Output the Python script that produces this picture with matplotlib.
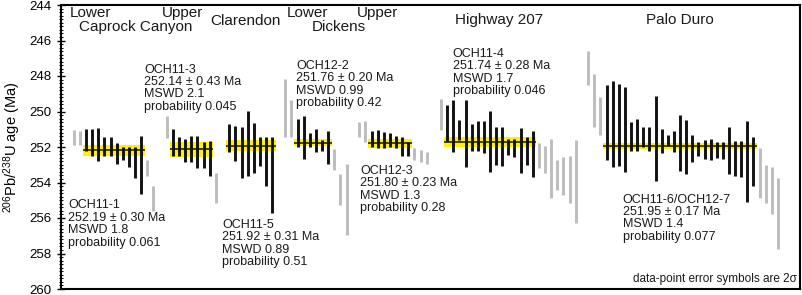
import matplotlib
matplotlib.use("Agg")
import matplotlib.pyplot as plt
from matplotlib.ticker import MultipleLocator

plt.rcParams['font.family'] = ['Liberation Sans', 'DejaVu Sans']
plt.rcParams['mathtext.fontset'] = 'custom'
plt.rcParams['mathtext.rm'] = 'Liberation Sans'
plt.rcParams['mathtext.it'] = 'Liberation Sans:italic'
plt.rcParams['mathtext.default'] = 'regular'

# ---------------- data (ages in Ma; 2-sigma error bar ends) ----------------
# used: 1 = included in weighted mean (black), 0 = excluded (grey)
och11_1_lo = [251.04, 251.11, 250.98, 250.98, 250.94, 251.45, 251.45, 251.79, 251.98, 251.98, 251.98, 251.36, 252.74, 254.19]
och11_1_hi = [251.87, 251.87, 252.21, 252.49, 252.81, 252.49, 252.49, 252.93, 252.74, 253.12, 253.76, 254.63, 253.62, 255.61]
och11_1_used = [0, 0, 1, 1, 1, 1, 1, 1, 1, 1, 1, 1, 0, 0]

och11_3_lo = [250.28, 250.98, 251.45, 251.55, 251.36, 251.36, 251.74, 251.64, 253.49]
och11_3_hi = [251.49, 252.49, 252.49, 252.87, 252.87, 253.21, 253.21, 253.62, 255.14]
och11_3_used = [0, 1, 1, 1, 1, 1, 1, 1, 0]

och11_5_lo = [250.70, 250.79, 250.89, 249.98, 250.66, 251.45, 251.45, 251.45]
och11_5_hi = [252.30, 252.78, 253.76, 253.62, 253.44, 253.06, 254.19, 255.70]
och11_5_used = [1, 1, 1, 1, 1, 1, 1, 1]

och12_2_lo = [248.15, 249.38, 250.41, 250.23, 251.23, 250.98, 251.60, 251.08, 252.11, 253.53, 252.93]
och12_2_hi = [251.45, 251.45, 251.98, 252.68, 251.98, 252.30, 252.21, 252.93, 253.30, 255.27, 256.93]
och12_2_used = [0, 0, 1, 1, 1, 1, 1, 1, 0, 0, 0]

och12_3_lo = [250.60, 250.55, 251.08, 251.04, 251.17, 251.23, 251.36, 251.42, 251.74, 252.06, 252.19, 252.30]
och12_3_hi = [251.45, 251.74, 251.98, 252.06, 252.06, 252.02, 252.06, 252.49, 252.49, 252.74, 252.82, 252.96]
och12_3_used = [0, 0, 1, 1, 1, 1, 1, 1, 1, 0, 0, 0]

och11_4_lo = [249.29, 249.61, 249.38, 250.46, 249.33, 250.69, 250.52, 250.52, 249.95, 250.90, 250.87,
              251.55, 251.55, 250.93, 251.44, 251.08, 251.75, 251.97, 251.55, 252.76, 252.54, 252.50, 251.59]
och11_4_hi = [251.03, 251.69, 252.29, 251.59, 253.10, 252.20, 252.25, 252.31, 253.39, 253.01, 253.07,
              252.44, 252.57, 253.48, 253.01, 253.67, 253.20, 253.44, 254.90, 254.42, 254.71, 255.14, 256.28]
och11_4_used = [0] + [1] * 15 + [0] * 7

och11_6_lo = [246.59, 247.91, 249.17,
              248.48, 248.29, 248.44, 248.63, 250.61, 250.40, 250.87, 250.87, 249.14, 250.97, 251.35, 251.08,
              250.18, 250.46, 251.31, 251.72, 251.63, 251.55, 251.72, 251.72, 250.87, 251.65, 251.65, 250.55,
              251.44,
              252.06, 253.01, 253.10, 253.76]
och11_6_hi = [248.53, 250.87, 251.31,
              252.72, 253.10, 253.07, 253.39, 252.25, 252.22, 252.01, 252.25, 253.90, 252.31, 251.97, 252.29,
              253.33, 253.52, 252.82, 252.50, 252.69, 252.72, 252.63, 252.69, 253.52, 253.61, 253.67, 255.12,
              254.20,
              254.90, 255.14, 255.78, 257.73]
och11_6_used = [0] * 3 + [1] * 25 + [0] * 4

means = [252.19, 252.14, 251.92, 251.76, 251.80, 251.74, 251.95]
errs = [0.30, 0.43, 0.31, 0.20, 0.23, 0.28, 0.17]
sample_names = ["OCH11-1", "OCH11-3", "OCH11-5", "OCH12-2", "OCH12-3", "OCH11-4", "OCH11-6/OCH12-7"]
mswd = ["1.8", "2.1", "0.89", "0.99", "1.3", "1.7", "1.4"]
prob = ["0.061", "0.045", "0.51", "0.42", "0.28", "0.046", "0.077"]

unit_labels = ["Lower", "Caprock Canyon", "Upper", "Clarendon", "Lower", "Dickens", "Upper",
               "Highway 207", "Palo Duro"]

# ---------------- layout ----------------
groups = [
    (och11_1_lo, och11_1_hi, och11_1_used),
    (och11_3_lo, och11_3_hi, och11_3_used),
    (och11_5_lo, och11_5_hi, och11_5_used),
    (och12_2_lo, och12_2_hi, och12_2_used),
    (och12_3_lo, och12_3_hi, och12_3_used),
    (och11_4_lo, och11_4_hi, och11_4_used),
    (och11_6_lo, och11_6_hi, och11_6_used),
]
group_start = [2.1, 17.3, 27.5, 36.65, 48.75, 62.1, 86.15]
text_pos = [(1.2, 254.95), (13.55, 247.3), (26.35, 256.05), (38.4, 247.1),
            (48.85, 253.0), (64.0, 246.4), (91.8, 254.62)]
unit_pos = [(4.74, 244.45), (12.25, 245.25), (19.85, 244.45), (30.2, 244.88), (40.3, 244.45),
            (45.4, 245.25), (51.8, 244.45), (71.65, 244.85), (101.1, 244.85)]

W, H = 803, 295
fig = plt.figure(figsize=(W / 100, H / 100), dpi=100)
ax = fig.add_axes([61 / W, 1 - 289 / H, (800 - 61) / W, (289 - 5) / H])
ax.set_xlim(0, 120.75)
ax.set_ylim(260, 244)

black = '#111111'
grey = '#bdbdbd'
yellow = '#fff200'

for (lo, hi, used), x0, m, e in zip(groups, group_start, means, errs):
    xs = [x0 + i for i in range(len(lo))]
    bx = [x for x, u in zip(xs, used) if u]
    xa, xb = min(bx) - 0.55, max(bx) + 0.55
    ax.fill_between([xa, xb], [m - e] * 2, [m + e] * 2, color=yellow, lw=0, zorder=1)
    for x, l, h, u in zip(xs, lo, hi, used):
        ax.vlines(x, l, h, color=black if u else grey, lw=2.1, zorder=2)
    ax.hlines(m, xa, xb, color=black, lw=1.1, zorder=3)

for (tx, ty), nm, m, e, ms, p in zip(text_pos, sample_names, means, errs, mswd, prob):
    ax.text(tx, ty, f"{nm}\n{m:.2f} \u00b1 {e:.2f} Ma\nMSWD {ms}\nprobability {p}",
            ha='left', va='top', fontsize=9, linespacing=1.05, color='#1a1a1a')

for (tx, ty), lab in zip(unit_pos, unit_labels):
    ax.text(tx, ty, lab, ha='center', va='center', fontsize=11, color='#1a1a1a')

ax.text(120.3, 259.42, "data-point error symbols are 2\u03c3", ha='right', va='center',
        fontsize=8.5, color='#1a1a1a')

ax.set_xticks([])
ax.yaxis.set_major_locator(MultipleLocator(2))
ax.yaxis.set_minor_locator(MultipleLocator(0.2))
ax.tick_params(axis='y', which='major', direction='inout', length=6, width=1.0, labelsize=9.5, pad=4)
ax.tick_params(axis='y', which='minor', direction='inout', length=3, width=0.7)
for s in ax.spines.values():
    s.set_linewidth(1.5)
ax.set_ylabel(r'$^{206}$Pb/$^{238}$U age (Ma)', fontsize=10.5)
ax.yaxis.set_label_coords(-0.052, 0.5)

fig.savefig("out.png", dpi=100)
